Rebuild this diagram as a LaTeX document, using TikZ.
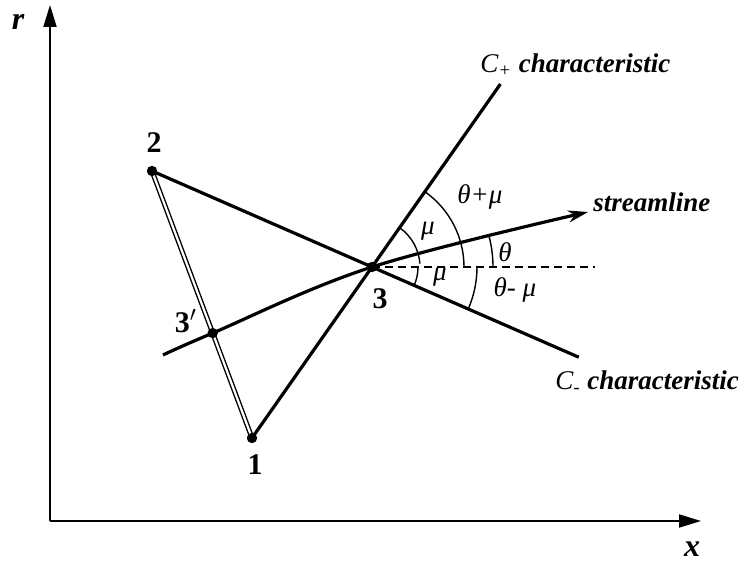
\documentclass[tikz,border=0pt]{standalone}
\usepackage{fontspec}
\setmainfont{Liberation Serif}
\usepackage{tikz}
\usetikzlibrary{arrows.meta,positioning,calc}

\begin{document}
\begin{tikzpicture}[
    x=0.5pt, y=0.5pt,
    ptlabel/.style={font=\fontsize{15}{17}\selectfont\bfseries, inner sep=0pt},
    axlabel/.style={font=\fontsize{16}{18}\selectfont\bfseries\itshape, inner sep=0pt},
    charlabel/.style={font=\fontsize{13.5}{15}\selectfont\bfseries\itshape, anchor=west, inner sep=0pt},
    anglabel/.style={font=\fontsize{13.5}{15}\selectfont\itshape, inner sep=0pt},
    charline/.style={line width=1.6pt},
    axis/.style={line width=1pt, -{Triangle[length=11pt, width=6.5pt]}},
    anglearc/.style={line width=0.7pt}
]
    \useasboundingbox (0,0) rectangle (744,561);

    % Axes
    \coordinate (orig) at (50,40);
    \coordinate (rtip) at (50,556);
    \coordinate (xtip) at (701,40);
    \draw[axis] (orig) -- (rtip);
    \draw[axis] (orig) -- (xtip);
    \node[axlabel] (rlbl) at (18,539) {r};
    \node[axlabel] (xlbl) at (692,12) {x};

    % Grid points
    \coordinate (p1) at (252,123);
    \coordinate (p2) at (152,390);
    \coordinate (p3) at (372,294);
    \coordinate (p3a) at ($(p2)!0.607!(p1)$);

    % Characteristics through point 3
    \coordinate (cpend) at ($(p1)!2.07!(p3)$);
    \coordinate (cmend) at ($(p2)!1.94!(p3)$);
    \draw[charline] (p1) -- (cpend);
    \draw[charline] (p2) -- (cmend);
    \draw[line width=0.7pt, double, double distance=1.1pt] (p2) -- (p1);

    % Streamline and horizontal
    \coordinate (s0) at (163,206);
    \coordinate (stip) at (588,349);
    \coordinate (hend) at (595,294);
    \draw[charline, -{Stealth[length=10pt, width=6pt]}] plot[smooth, tension=0.6] coordinates {(s0) (p3a) (p3) (stip)};
    \draw[line width=0.8pt, dash pattern=on 4pt off 2.5pt] (p3) -- (hend);

    \foreach \p in {p1, p2, p3, p3a} {
        \fill (\p) circle (2.6pt);
    }

    % Angle arcs
    \draw[anglearc] ($(p3)+(54.9:48)$) arc[start angle=54.9, end angle=4, radius=48];
    \draw[anglearc] ($(p3)+(0:46)$) arc[start angle=0, end angle=-23.6, radius=46];
    \draw[anglearc] ($(p3)+(54.9:92)$) arc[start angle=54.9, end angle=0, radius=92];
    \draw[anglearc] ($(p3)+(15:121)$) arc[start angle=15, end angle=0, radius=121];
    \draw[anglearc] ($(p3)+(0:105)$) arc[start angle=0, end angle=-23.6, radius=105];

    % Labels
    \node[ptlabel] (lbl1) at (255,96) {1};
    \node[ptlabel] (lbl2) at (154,418) {2};
    \node[ptlabel] (lbl3) at (380,262) {3};
    \node[ptlabel] (lbl3a) at (186,240) {3$'$};

    \node[charlabel] (cplbl) at (480,496) {{\mdseries C\textsubscript{+}} characteristic};
    \node[charlabel] (cmlbl) at (555,179) {{\mdseries C\textsubscript{-}} characteristic};
    \node[charlabel] (stlbl) at (593,359) {streamline};

    \node[anglabel] (mu1) at (428,330) {μ};
    \node[anglabel] (mu2) at (440,284) {μ};
    \node[anglabel] (thpmu) at (480,364) {θ+μ};
    \node[anglabel] (th) at (505,309) {θ};
    \node[anglabel] (thmmu) at (515,271) {θ- μ};

\end{tikzpicture}
\end{document}
